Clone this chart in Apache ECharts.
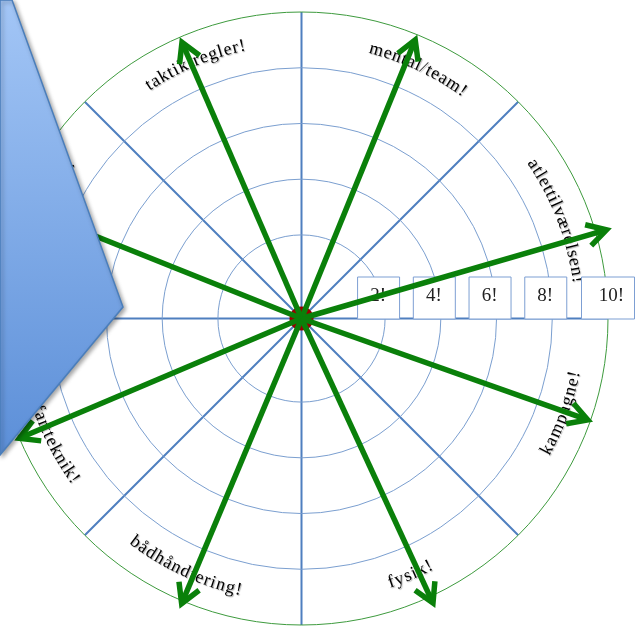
<!DOCTYPE html>
<html><head><meta charset="utf-8">
<script src="https://cdn.jsdelivr.net/npm/echarts@6/dist/echarts.min.js"></script>
<style>html,body{margin:0;padding:0;background:#fff}#c{width:635px;height:627px}</style>
</head><body><div id="c"></div>
<script>
// ---- data ----
const categories = ['atlettilværelsen!', 'mental/team!', 'taktik/regler!', 'materiel/udstyr!', 'fartteknik!', 'bådhåndtering!', 'fysik!', 'kampagne!'];
const arrowAngles = [16.2, 67.8, 113.4, 158.2, 203, 247.2, 294.8, 340.5];
const arrowValues = [10.4, 9.8, 9.8, 10, 10, 10.1, 10.25, 9.9];
const labelAngles = [21, 65, 112.7, 159, 207, 245, 293, 340];
const ringValues = [2, 4, 6, 8, 10];
const tickLabels = ['2!', '4!', '6!', '8!', '10!'];

// ---- styling constants ----
const LABEL_R = 9.0;
const FONT = '18px "Liberation Serif"';
const BOX_FONT = '19px "Liberation Serif"';
const SPACING = 1.0;
const measureCtx = document.createElement('canvas').getContext('2d');
measureCtx.font = FONT;

const chart = echarts.init(document.getElementById('c'), null, {renderer: 'canvas'});

function radiusOf(api, cs, v) {
  const p = api.coord([v, 0]);
  return Math.hypot(p[0] - cs.cx, p[1] - cs.cy);
}

const option = {
  animation: false,
  backgroundColor: '#fff',
  polar: {center: [301.5, 318.5], radius: 306.5},
  angleAxis: {
    type: 'value', min: 0, max: 360, interval: 45, startAngle: 0, clockwise: false,
    axisLine: {show: false}, axisTick: {show: false}, axisLabel: {show: false},
    splitLine: {show: true, lineStyle: {color: '#4f7fbf', width: 2}}
  },
  radiusAxis: {
    type: 'value', min: -1, max: 10,
    axisLine: {show: false}, axisTick: {show: false}, axisLabel: {show: false},
    splitLine: {show: false}
  },
  series: [
    { // rings
      type: 'custom', coordinateSystem: 'polar', z: 2, clip: false, silent: true,
      data: ringValues.map(v => [v, 0]),
      renderItem: function (params, api) {
        const cs = params.coordSys;
        const v = api.value(0);
        const r = radiusOf(api, cs, v);
        return {type: 'circle', shape: {cx: cs.cx, cy: cs.cy, r: r},
          style: {fill: 'none', stroke: v === ringValues[ringValues.length - 1] ? '#3e9b3e' : '#7b9fd0', lineWidth: 1}};
      }
    },
    { // curved labels
      type: 'custom', coordinateSystem: 'polar', z: 3, clip: false, silent: true,
      data: labelAngles.map((a, i) => [LABEL_R, a, i]),
      renderItem: function (params, api) {
        const cs = params.coordSys;
        const R = radiusOf(api, cs, api.value(0));
        const ac = api.value(1);
        const text = categories[api.value(2)];
        const chars = Array.from(text);
        const ws = chars.map(ch => measureCtx.measureText(ch).width);
        const total = ws.reduce((s, w) => s + w, 0) + SPACING * (chars.length - 1);
        const span = total / R;
        const upper = ac > 0 && ac < 180;
        const acr = ac * Math.PI / 180;
        let cum = 0;
        const children = chars.map((ch, i) => {
          const off = (cum + ws[i] / 2) / R;
          cum += ws[i] + SPACING;
          const th = upper ? acr + span / 2 - off : acr - span / 2 + off;
          const x = cs.cx + R * Math.cos(th);
          const y = cs.cy - R * Math.sin(th);
          const rot = upper ? th - Math.PI / 2 : th + Math.PI / 2;
          return {type: 'text', x: x, y: y, rotation: rot,
            style: {text: ch, font: FONT, fill: '#000', align: 'center', verticalAlign: 'middle',
              textShadowColor: 'rgba(0,0,0,0.3)', textShadowOffsetX: 1, textShadowOffsetY: 1, textShadowBlur: 1}};
        });
        return {type: 'group', children: children};
      }
    },
    { // tick boxes
      type: 'custom', coordinateSystem: 'polar', z: 4, clip: false, silent: true,
      data: ringValues.map((v, i) => [v, 0, i]),
      renderItem: function (params, api) {
        const cs = params.coordSys;
        const p = api.coord([api.value(0), 0]);
        const i = api.value(2);
        const last = i === ringValues.length - 1;
        const w = last ? 53 : 42, h = 42;
        const x0 = p[0] - (last ? 27 : 28);
        const y0 = cs.cy - h;
        return {type: 'group', children: [
          {type: 'rect', shape: {x: x0 + 0.5, y: y0 + 0.5, width: w, height: h},
            style: {fill: '#fff', stroke: '#7d9fd3', lineWidth: 1}},
          {type: 'text', x: x0 + w / 2 + (last ? 4 : 0), y: y0 + h / 2 - 1,
            style: {text: tickLabels[i], font: BOX_FONT, fill: '#222', align: 'center', verticalAlign: 'middle'}}
        ]};
      }
    },
    { // center dot
      type: 'custom', coordinateSystem: 'polar', z: 5, clip: false, silent: true,
      data: [[-1, 0]],
      renderItem: function (params, api) {
        const cs = params.coordSys;
        return {type: 'circle', shape: {cx: cs.cx, cy: cs.cy, r: 12}, style: {fill: '#960000'}};
      }
    },
    { // arrows
      type: 'custom', coordinateSystem: 'polar', z: 6, clip: false, silent: true,
      data: arrowValues.map((v, i) => [v, arrowAngles[i]]),
      renderItem: function (params, api) {
        const cs = params.coordSys;
        const tip = api.coord([api.value(0), api.value(1)]);
        const dx = tip[0] - cs.cx, dy = tip[1] - cs.cy;
        const len = Math.hypot(dx, dy);
        const ux = dx / len, uy = dy / len;
        const bx = -ux, by = -uy, L = 22, a = 0.52;
        const arm = s => [tip[0] + L * (bx * Math.cos(s * a) - by * Math.sin(s * a)),
                          tip[1] + L * (bx * Math.sin(s * a) + by * Math.cos(s * a))];
        const st = {stroke: '#0a800a', lineWidth: 5.5, fill: 'none', lineJoin: 'miter', lineCap: 'butt'};
        return {type: 'group', children: [
          {type: 'line', shape: {x1: cs.cx, y1: cs.cy, x2: tip[0] - ux * 3, y2: tip[1] - uy * 3}, style: st},
          {type: 'polyline', shape: {points: [arm(1), tip, arm(-1)]}, style: st}
        ]};
      }
    }
  ],
  graphic: [{
    type: 'polygon', z: 100, silent: true,
    shape: {points: [[0, 0], [12, 0], [123, 307], [0, 455]]},
    style: {
      fill: new echarts.graphic.LinearGradient(0, 0, 0, 1, [
        {offset: 0, color: '#a3c6f6'}, {offset: 1, color: '#5c8fd8'}]),
      stroke: '#4a7ebb', lineWidth: 1.5,
      shadowBlur: 4, shadowColor: 'rgba(0,0,0,0.35)', shadowOffsetX: 2, shadowOffsetY: 2
    }
  }]
};
chart.setOption(option);
</script>
</body></html>
